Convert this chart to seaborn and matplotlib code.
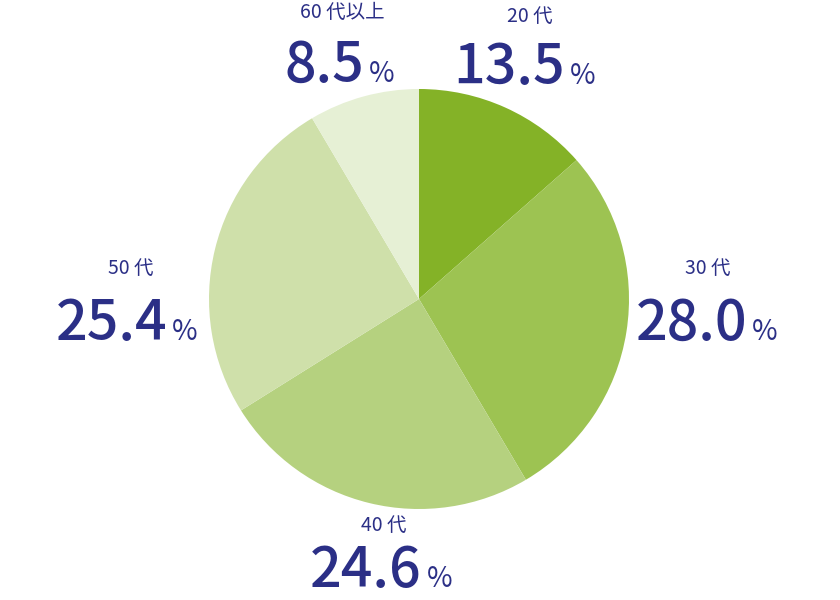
import matplotlib
matplotlib.use("Agg")
import matplotlib.pyplot as plt
import seaborn as sns

# data
age_groups = ["20 代", "30 代", "40 代", "50 代", "60 代以上"]
shares = [13.5, 28.0, 24.6, 25.4, 8.5]
slice_colors = ["#84b227", "#9dc352", "#b5d17f", "#cfe0aa", "#e6f0d5"]

# label anchors (figure pixels): x where number ends, number baseline y, small label centre
label_pos = {
    "20 代": (565, 84, 530, 16),
    "30 代": (747, 340, 708, 268),
    "40 代": (422, 587, 384, 525),
    "50 代": (167, 340, 131, 268),
    "60 代以上": (364, 82, 342, 12),
}

sns.set_theme(style="white")
plt.rcParams["font.family"] = ["Noto Sans CJK JP", "DejaVu Sans"]
text_color = "#2b2f86"

W, H = 840, 600
fig = plt.figure(figsize=(W / 100, H / 100), dpi=100)
cx, cy, r = 419, 299, 210
ax = fig.add_axes([(cx - r) / W, (H - cy - r) / H, 2 * r / W, 2 * r / H])
ax.pie(shares, colors=slice_colors, startangle=90, counterclock=False,
       radius=1, wedgeprops={"linewidth": 0})
ax.set_xlim(-1, 1)
ax.set_ylim(-1, 1)
ax.set_aspect("equal")
ax.axis("off")

for name, val in zip(age_groups, shares):
    nx, ny, lx, ly = label_pos[name]
    fig.text(nx / W, 1 - ny / H, f"{val:.1f}", ha="right", va="baseline",
             fontsize=40, color=text_color, fontweight="medium")
    fig.text((nx + 5) / W, 1 - ny / H, "%", ha="left", va="baseline",
             fontsize=20, color=text_color)
    fig.text(lx / W, 1 - ly / H, name, ha="center", va="center",
             fontsize=14, color=text_color)

fig.savefig("out.png", dpi=100)
